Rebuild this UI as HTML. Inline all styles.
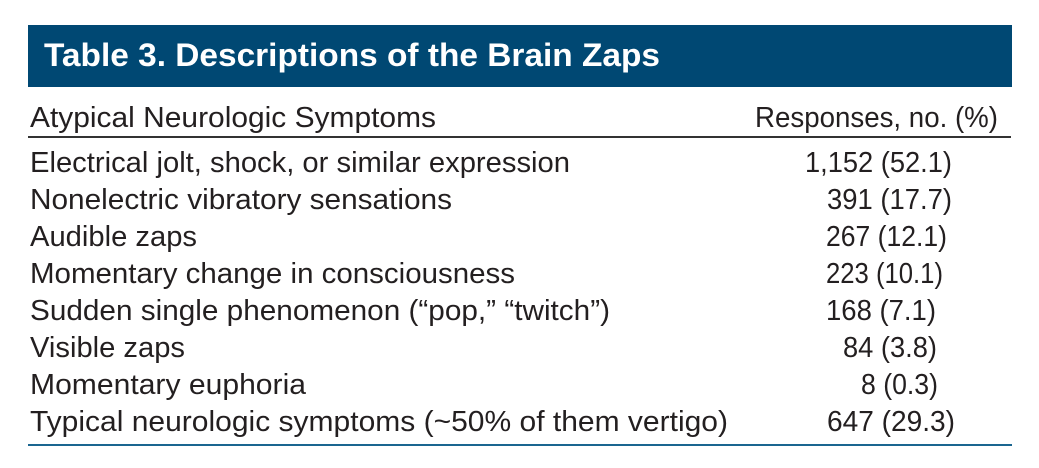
<!DOCTYPE html>
<html><head><meta charset="utf-8"><style>
html,body{margin:0;padding:0;background:#fff;width:1039px;height:468px;overflow:hidden}
svg text{font-family:"Liberation Sans",sans-serif;fill:#231f20;font-size:29px}
</style></head><body>
<svg width="1039" height="468" xmlns="http://www.w3.org/2000/svg">
<rect x="28" y="25" width="984" height="62" fill="#004873"/>
<text x="44" y="66" textLength="616" lengthAdjust="spacingAndGlyphs" style="fill:#fff;font-weight:bold;font-size:32px">Table 3. Descriptions of the Brain Zaps</text>
<text x="30" y="127" textLength="406" lengthAdjust="spacingAndGlyphs">Atypical Neurologic Symptoms</text>
<text x="755" y="127" textLength="243" lengthAdjust="spacingAndGlyphs">Responses, no. (%)</text>
<rect x="28" y="136" width="983" height="2" fill="#333"/>
<text x="30" y="172" textLength="540" lengthAdjust="spacingAndGlyphs">Electrical jolt, shock, or similar expression</text>
<text x="30" y="209" textLength="422" lengthAdjust="spacingAndGlyphs">Nonelectric vibratory sensations</text>
<text x="30" y="246" textLength="167" lengthAdjust="spacingAndGlyphs">Audible zaps</text>
<text x="30" y="283" textLength="485" lengthAdjust="spacingAndGlyphs">Momentary change in consciousness</text>
<text x="30" y="320" textLength="580" lengthAdjust="spacingAndGlyphs">Sudden single phenomenon (“pop,” “twitch”)</text>
<text x="30" y="357" textLength="155" lengthAdjust="spacingAndGlyphs">Visible zaps</text>
<text x="30" y="394" textLength="276" lengthAdjust="spacingAndGlyphs">Momentary euphoria</text>
<text x="30" y="431" textLength="698" lengthAdjust="spacingAndGlyphs">Typical neurologic symptoms (~50% of them vertigo)</text>
<text x="805" y="172" textLength="147" lengthAdjust="spacingAndGlyphs">1,152 (52.1)</text>
<text x="827" y="209" textLength="125" lengthAdjust="spacingAndGlyphs">391 (17.7)</text>
<text x="826" y="246" textLength="121" lengthAdjust="spacingAndGlyphs">267 (12.1)</text>
<text x="826" y="283" textLength="117" lengthAdjust="spacingAndGlyphs">223 (10.1)</text>
<text x="826" y="320" textLength="110" lengthAdjust="spacingAndGlyphs">168 (7.1)</text>
<text x="843" y="357" textLength="94" lengthAdjust="spacingAndGlyphs">84 (3.8)</text>
<text x="861" y="394" textLength="77" lengthAdjust="spacingAndGlyphs">8 (0.3)</text>
<text x="827" y="431" textLength="128" lengthAdjust="spacingAndGlyphs">647 (29.3)</text>
<rect x="28" y="444" width="984" height="2" fill="#1a6690"/>
</svg>
</body></html>
